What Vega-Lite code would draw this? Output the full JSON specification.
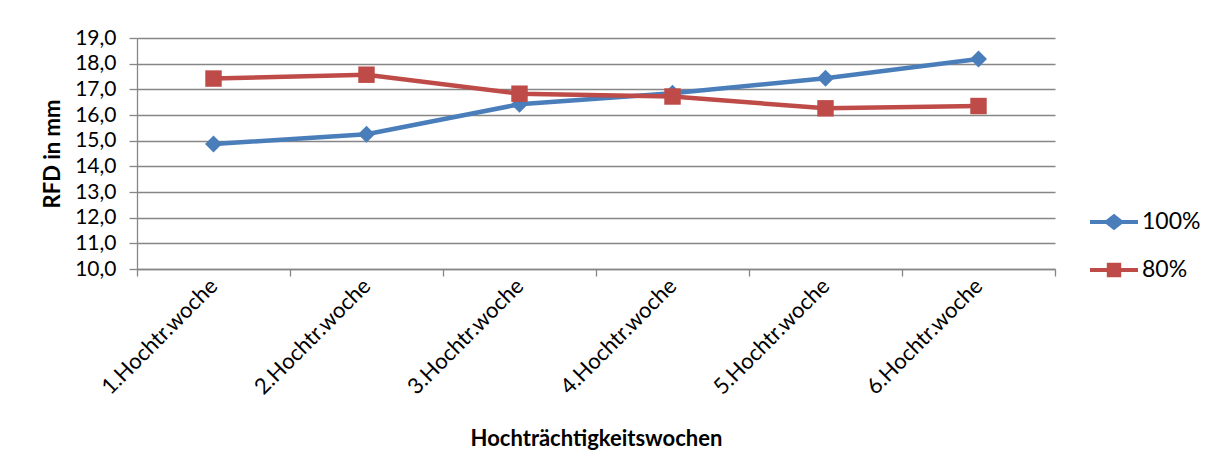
{
  "$schema": "https://vega.github.io/schema/vega-lite/v6.json",
  "autosize": "none",
  "padding": {"left": 137, "top": 38, "right": 163, "bottom": 203},
  "width": 918,
  "height": 231,
  "background": "white",
  "config": {
    "font": "Lato",
    "view": {"stroke": null},
    "axis": {"labelFont": "Lato", "titleFont": "Lato", "labelColor": "#000000", "titleColor": "#000000"}
  },
  "data": {
    "values": [
      {"woche": "1.Hochtr.woche", "gruppe": "100%", "rfd": 14.87},
      {"woche": "2.Hochtr.woche", "gruppe": "100%", "rfd": 15.25},
      {"woche": "3.Hochtr.woche", "gruppe": "100%", "rfd": 16.42},
      {"woche": "4.Hochtr.woche", "gruppe": "100%", "rfd": 16.85},
      {"woche": "5.Hochtr.woche", "gruppe": "100%", "rfd": 17.43},
      {"woche": "6.Hochtr.woche", "gruppe": "100%", "rfd": 18.18},
      {"woche": "1.Hochtr.woche", "gruppe": "80%", "rfd": 17.42},
      {"woche": "2.Hochtr.woche", "gruppe": "80%", "rfd": 17.57},
      {"woche": "3.Hochtr.woche", "gruppe": "80%", "rfd": 16.83},
      {"woche": "4.Hochtr.woche", "gruppe": "80%", "rfd": 16.72},
      {"woche": "5.Hochtr.woche", "gruppe": "80%", "rfd": 16.26},
      {"woche": "6.Hochtr.woche", "gruppe": "80%", "rfd": 16.35}
    ]
  },
  "encoding": {
    "x": {
      "field": "woche",
      "type": "nominal",
      "sort": null,
      "scale": {"type": "band", "paddingInner": 0, "paddingOuter": 0},
      "axis": {
        "title": "Hochträchtigkeitswochen",
        "titleFontSize": 22,
        "titleFontWeight": "bold",
        "titlePadding": 30,
        "labelAngle": -45,
        "labelAlign": "right",
        "labelBaseline": "middle",
        "labelFontSize": 22,
        "labelPadding": 6,
        "tickBand": "extent",
        "domainColor": "#868686",
        "domainWidth": 1.3,
        "tickColor": "#868686",
        "tickWidth": 1.3,
        "tickSize": 7,
        "grid": false
      }
    },
    "y": {
      "field": "rfd",
      "type": "quantitative",
      "scale": {"domain": [10, 19], "nice": false, "zero": false},
      "axis": {
        "title": "RFD in mm",
        "titleFontSize": 22,
        "titleFontWeight": "bold",
        "titlePadding": 10,
        "values": [10, 11, 12, 13, 14, 15, 16, 17, 18, 19],
        "labelExpr": "replace(format(datum.value, '.1f'), '.', ',')",
        "labelFontSize": 21,
        "labelPadding": 13,
        "domainColor": "#868686",
        "domainWidth": 1.3,
        "tickColor": "#868686",
        "tickWidth": 1.3,
        "tickSize": 8,
        "grid": true,
        "gridColor": "#868686",
        "gridWidth": 1.3
      }
    },
    "color": {
      "field": "gruppe",
      "type": "nominal",
      "scale": {"domain": ["100%", "80%"], "range": ["#4A7EBB", "#BE4B48"]},
      "legend": {
        "title": null,
        "orient": "none",
        "legendX": 953,
        "legendY": 160,
        "labelFontSize": 23,
        "labelFont": "Lato",
        "labelColor": "#000000",
        "rowPadding": 12,
        "symbolSize": 2304,
        "symbolStrokeWidth": 0,
        "symbolOpacity": 1,
        "labelOffset": 4,
        "encode": {
          "symbols": {
            "update": {
              "shape": {
                "signal": "datum.value === '100%' ? 'M-1,-0.085 L-0.33,-0.085 L0,-0.34 L0.33,-0.085 L1,-0.085 L1,0.085 L0.33,0.085 L0,0.34 L-0.33,0.085 L-1,0.085 Z' : 'M-1,-0.085 L-0.3,-0.085 L-0.3,-0.3 L0.3,-0.3 L0.3,-0.085 L1,-0.085 L1,0.085 L0.3,0.085 L0.3,0.3 L-0.3,0.3 L-0.3,0.085 L-1,0.085 Z'"
              },
              "size": {"value": 2304},
              "fill": {"signal": "datum.value === '100%' ? '#4A7EBB' : '#BE4B48'"},
              "fillOpacity": {"value": 1},
              "strokeWidth": {"value": 0}
            }
          }
        }
      }
    }
  },
  "layer": [
    {
      "mark": {"type": "line", "strokeWidth": 4.5}
    },
    {
      "transform": [{"filter": "datum.gruppe === '100%'"}],
      "mark": {"type": "point", "filled": true, "opacity": 1, "shape": "diamond", "size": 290}
    },
    {
      "transform": [{"filter": "datum.gruppe === '80%'"}],
      "mark": {"type": "point", "filled": true, "opacity": 1, "shape": "square", "size": 270}
    }
  ]
}
